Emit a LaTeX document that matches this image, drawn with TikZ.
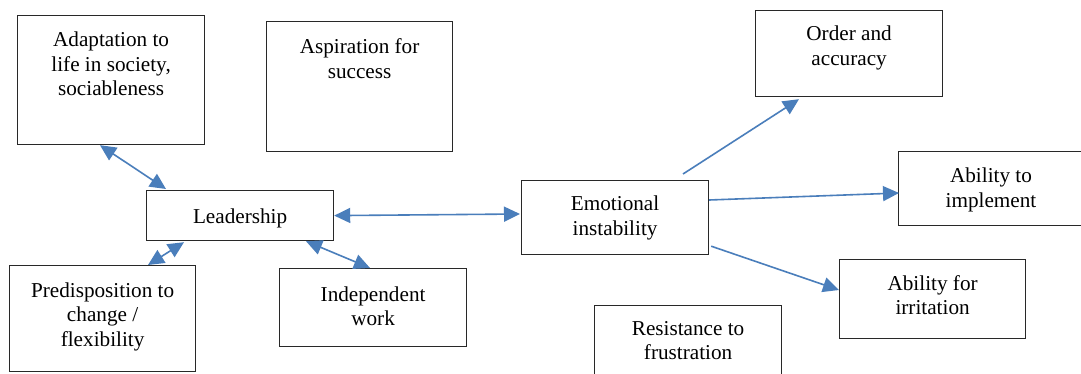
\documentclass[tikz,border=0pt]{standalone}
\usepackage{fontspec}
\setmainfont{Liberation Serif}
\usetikzlibrary{arrows.meta,calc}
\definecolor{arrowblue}{RGB}{74,126,187}
\definecolor{boxline}{RGB}{40,40,40}
\tikzset{
  box/.style={draw=boxline, line width=1.2pt, rectangle, inner sep=0pt, anchor=north west},
  txt/.style={inner sep=0pt, anchor=base, font=\fontsize{21.2}{24.5}\selectfont},
  tip/.style={Triangle[length=16pt,width=15pt]},
  link/.style={draw=arrowblue, line width=1.6pt, -{Triangle[length=16pt,width=15pt]}},
  dlink/.style={draw=arrowblue, line width=1.6pt, {Triangle[length=16pt,width=15pt]}-{Triangle[length=16pt,width=15pt]}}
}
\newcommand{\boxtext}[1]{\parbox[t]{180pt}{\centering #1}}
\begin{document}
\begin{tikzpicture}[x=1pt,y=-1pt]
\clip (0,0) rectangle (1081,374);
\fill[white] (0,0) rectangle (1081,374);
% boxes
\node[box, minimum width=187pt, minimum height=129pt] (adapt) at (17,15) {};
\node[box, minimum width=186pt, minimum height=130pt] (aspir) at (266,21) {};
\node[box, minimum width=187pt, minimum height=50pt]  (lead)  at (146,190) {};
\node[box, minimum width=186pt, minimum height=106pt] (pred)  at (9,265) {};
\node[box, minimum width=187pt, minimum height=78pt]  (indep) at (279,268) {};
\node[box, minimum width=187pt, minimum height=74pt]  (emo)   at (521,180) {};
\node[box, minimum width=187pt, minimum height=86pt]  (order) at (755,10) {};
\node[box, minimum width=192pt, minimum height=74pt]  (impl)  at (898,151) {};
\node[box, minimum width=186pt, minimum height=79pt]  (irr)   at (839,259) {};
\node[box, minimum width=187pt, minimum height=90pt]  (resist) at (594,305) {};
% texts
\node[txt] (adapt-t) at ($(adapt.north)+(0,32)$) {\boxtext{Adaptation to\\life in society,\\sociableness}};
\node[txt] (aspir-t) at ($(aspir.north)+(0,33)$) {\boxtext{Aspiration for\\success}};
\node[txt] (lead-t)  at ($(lead.north)+(0,33)$) {\boxtext{Leadership}};
\node[txt] (pred-t)  at ($(pred.north)+(0,32)$) {\boxtext{Predisposition to\\change /\\flexibility}};
\node[txt] (indep-t) at ($(indep.north)+(0,33)$) {\boxtext{Independent\\work}};
\node[txt] (emo-t)   at ($(emo.north)+(0,31)$) {\boxtext{Emotional\\instability}};
\node[txt] (order-t) at ($(order.north)+(0,31)$) {\boxtext{Order and\\accuracy}};
\node[txt] (impl-t)  at ($(impl.north west)+(93,32)$) {\boxtext{Ability to\\implement}};
\node[txt] (irr-t)   at ($(irr.north)+(0,31)$) {\boxtext{Ability for\\irritation}};
\node[txt] (resist-t) at ($(resist.north)+(0,30)$) {\boxtext{Resistance to\\frustration}};
% connectors
\coordinate (emo-top) at ($(emo.north west)+(162,-6)$);
\draw[dlink] ($(adapt.south west)+(83,0)$) -- ($(lead.north west)+(20,-1)$);
\draw[dlink] ($(pred.north west)+(139,0)$) -- ($(lead.south west)+(38,1)$);
\draw[dlink] ($(lead.south west)+(160,0)$) -- ($(indep.north west)+(91,0)$);
\draw[dlink] (lead.east) -- ($(emo.north west)+(-1,34)$);
\draw[link] (emo-top) -- ($(order.south west)+(44,2)$);
\draw[link] ($(emo.north east)+(0,20)$) -- ($(impl.north west)+(1,42)$);
\draw[link] ($(emo.south east)+(2,-9)$) -- ($(irr.north west)+(0,31)$);
\end{tikzpicture}
\end{document}
